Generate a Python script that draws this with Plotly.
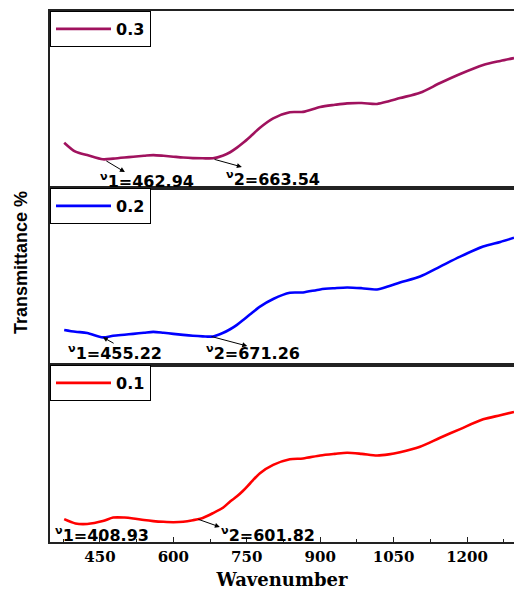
import plotly.graph_objects as go

wavenumber = [377, 400, 424, 456, 477, 500, 518, 540, 559, 580, 600, 620, 640, 660, 681,
              702, 716, 730, 742, 757, 777, 804, 838, 865, 900, 930, 955, 985, 1016, 1040,
              1063, 1104, 1145, 1186, 1233, 1268, 1296]

t_03 = [25.6, 20.5, 18.6, 16.2, 16.6, 17.2, 17.7, 18.2, 18.6, 18.2, 17.7, 17.2, 16.9, 16.8, 16.8,
        18.4, 20.2, 22.8, 25.4, 29.0, 34.0, 39.3, 42.8, 43.0, 45.8, 47.0, 47.8, 48.0, 47.5, 49.0,
        50.8, 53.8, 59.3, 64.4, 69.5, 71.8, 73.4]
t_02 = [19.8, 18.8, 18.1, 15.6, 16.5, 17.1, 17.6, 18.2, 18.7, 18.2, 17.6, 17.0, 16.5, 16.2, 16.1,
        18.2, 20.2, 22.7, 25.3, 28.7, 33.0, 37.3, 40.8, 41.0, 42.7, 43.4, 43.8, 43.4, 42.7, 44.5,
        46.6, 50.0, 55.6, 61.2, 66.9, 69.5, 71.9]
t_01 = [12.9, 10.5, 10.2, 11.8, 13.8, 13.8, 13.3, 12.4, 11.8, 11.4, 11.2, 11.4, 12.3, 13.6, 16.3,
        19.5, 22.9, 25.8, 28.8, 33.2, 38.9, 43.6, 46.8, 47.2, 48.9, 49.8, 50.4, 49.8, 48.9, 49.5,
        50.7, 53.8, 58.9, 63.8, 69.3, 71.6, 73.5]

series_names = ["0.3", "0.2", "0.1"]
series_colors = ["#A0125E", "#0000FF", "#FF0000"]
x_ticks = [450, 600, 750, 900, 1050, 1200]

# peak labels: (panel, text, text_x, text_y, arrow_head_x, arrow_head_y, arrow_tail_x, arrow_tail_y)
peak_labels = [
    (1, "<sup>ν</sup>1=462.94", 546, 4.0, 501, 9.0, 460, 15.8),
    (1, "<sup>ν</sup>2=663.54", 804, 5.6, 740, 11.9, 681, 16.4),
    (2, "<sup>ν</sup>1=455.22", 481, 7.3, 456, 15.7, 481, 11.8),
    (2, "<sup>ν</sup>2=671.26", 763, 7.3, 751, 10.7, 675, 16.3),
    (3, "<sup>ν</sup>1=408.93", 454, 4.0, None, None, None, None),
    (3, "<sup>ν</sup>2=601.82", 794, 4.0, 695, 8.5, 648, 13.1),
]

fig = go.Figure()
ys = [t_03, t_02, t_01]
for i in range(3):
    ax = "" if i == 0 else str(i + 1)
    fig.add_trace(go.Scatter(
        x=wavenumber, y=ys[i], mode="lines", name=series_names[i],
        line=dict(color=series_colors[i], width=2.6, shape="spline", smoothing=0.8),
        xaxis="x" + ax, yaxis="y" + ax,
        legend="legend" + ax,
    ))

axis_line = dict(showline=True, linecolor="#222", linewidth=1.5)
domains = [[2 / 3, 1.0], [1 / 3, 2 / 3], [0.0, 1 / 3]]
layout = dict(
    width=514, height=597,
    margin=dict(l=50, r=0, t=11, b=55),
    plot_bgcolor="white", paper_bgcolor="white",
    showlegend=True,
)
for i in range(3):
    ax = "" if i == 0 else str(i + 1)
    bottom = (i == 2)
    xa = dict(axis_line, range=[348, 1296], anchor="y" + ax, mirror=True,
              showgrid=False, zeroline=False, domain=[0, 1])
    if bottom:
        xa.update(tickvals=x_ticks, ticks="inside", ticklen=5, tickwidth=1.2, tickcolor="#222",
                  tickfont=dict(family="DejaVu Serif", size=15, color="black", weight="bold"),
                  minor=dict(ticks="inside", ticklen=3, tickwidth=1, tickcolor="#222", dtick=75, tick0=375),
                  title=dict(text="<b>Wavenumber</b>", standoff=9,
                             font=dict(family="DejaVu Serif", size=18, color="black")))
    else:
        xa.update(showticklabels=False, ticks="", matches="x3")
    ya = dict(axis_line, range=[0, 100], domain=domains[i], anchor="x" + ax,
              showticklabels=False, ticks="", showgrid=False, zeroline=False)
    layout["xaxis" + ax] = xa
    layout["yaxis" + ax] = ya
    layout["legend" + ax] = dict(
        x=0, y=domains[i][1], xanchor="left", yanchor="top",
        bgcolor="white", bordercolor="black", borderwidth=1,
        font=dict(family="DejaVu Sans", size=16, color="black", weight="bold"),
        itemwidth=55,
    )

fig.update_layout(**layout)

for (panel, text, tx, ty, hx, hy, sx, sy) in peak_labels:
    ax = "" if panel == 1 else str(panel)
    fig.add_annotation(x=tx, y=ty, xref="x" + ax, yref="y" + ax, text="<b>" + text + "</b>",
                       showarrow=False,
                       font=dict(family="DejaVu Sans", size=16, color="black"))
    if hx is not None:
        fig.add_annotation(x=hx, y=hy, xref="x" + ax, yref="y" + ax,
                           ax=sx, ay=sy, axref="x" + ax, ayref="y" + ax,
                           text="", showarrow=True, arrowhead=2, arrowsize=1,
                           arrowwidth=1, arrowcolor="black")

fig.add_annotation(x=-29 / 464, y=(542 - 263) / 531, xref="paper", yref="paper",
                   xanchor="center", yanchor="middle",
                   text="<b>Transmittance %</b>", textangle=-90, showarrow=False,
                   font=dict(family="Liberation Sans", size=18, color="black"))

fig.write_html("out.html", config={"displayModeBar": False},
               post_script="document.body.style.margin='0';")
